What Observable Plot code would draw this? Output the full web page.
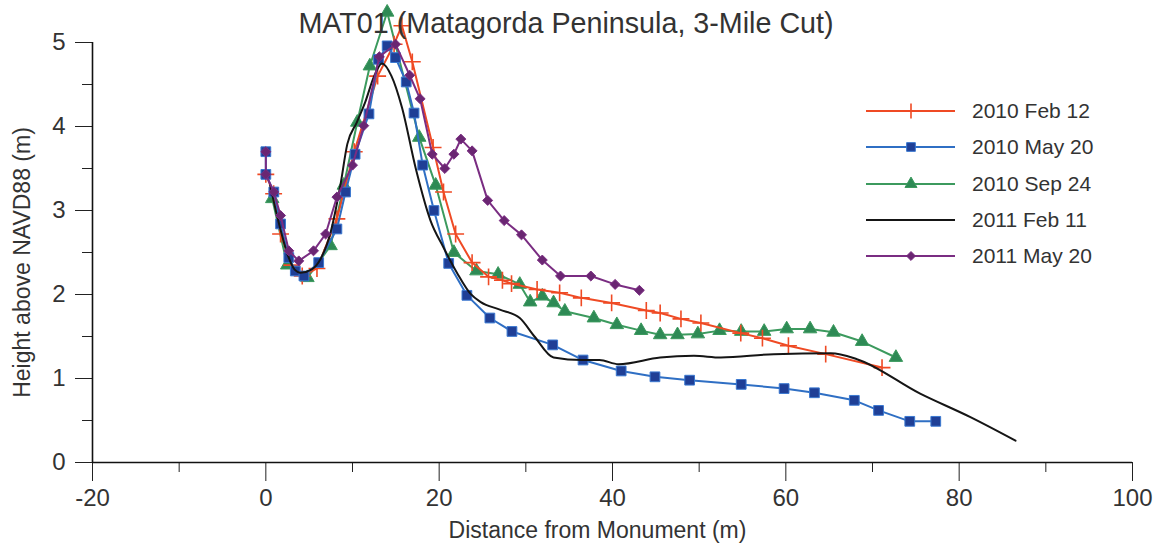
<!DOCTYPE html>
<html><head><meta charset="utf-8">
<script src="https://cdn.jsdelivr.net/npm/d3@7"></script>
<script src="https://cdn.jsdelivr.net/npm/@observablehq/plot@0.6"></script>
<style>
body{margin:0;background:#fff;font-family:"Liberation Sans",Arial,sans-serif;}
#wrap{position:relative;width:1156px;height:550px;overflow:hidden;}
#title{position:absolute;top:7px;left:0;width:1132px;text-align:center;font-size:28.7px;line-height:32px;color:#333;}
#legend{position:absolute;left:862px;top:93px;}
.row{display:flex;align-items:center;height:36.3px;font-size:21px;color:#333;}
.row svg{margin-right:14px;}
</style></head><body><div id="wrap"><div id="title">MAT01 (Matagorda Peninsula, 3-Mile Cut)</div><div id="legend"></div></div>
<script>
const titleText = "MAT01 (Matagorda Peninsula, 3-Mile Cut)";
const xLabel = "Distance from Monument (m)";
const yLabel = "Height above NAVD88 (m)";
const xTicks = [-20, 0, 20, 40, 60, 80, 100];
const xMinorTicks = [-10, 10, 30, 50, 70, 90];
const yTicks = [0, 1, 2, 3, 4, 5];
const yMinorTicks = [0.5, 1.5, 2.5, 3.5, 4.5];
const seriesNames = ["2010 Feb 12", "2010 May 20", "2010 Sep 24", "2011 Feb 11", "2011 May 20"];

const feb2010 = [[0,3.43],[0.9,3.2],[1.7,2.72],[3.0,2.35],[4.2,2.22],[5.9,2.31],[8.2,2.9],[10.2,3.7],[12.9,4.6],[14.8,4.98],[15.7,5.2],[16.9,4.77],[19.3,3.75],[20.5,3.22],[21.9,2.72],[23.8,2.38],[25.7,2.21],[27.3,2.17],[28.35,2.13],[31.3,2.06],[33.9,2.02],[36.4,1.96],[39.9,1.9],[43.9,1.81],[45.5,1.78],[47.9,1.71],[50.2,1.66],[54.8,1.54],[57.3,1.48],[60.3,1.39],[64.6,1.29],[71.1,1.13]];
const may2010 = [[0,3.7],[0,3.43],[0.92,3.22],[1.7,2.84],[2.65,2.44],[3.4,2.28],[4.4,2.22],[6.1,2.38],[8.2,2.78],[9.2,3.22],[10.3,3.67],[11.9,4.15],[13.0,4.8],[14.0,4.96],[14.96,4.82],[16.2,4.53],[17.1,4.16],[18.1,3.54],[19.4,3.0],[21.1,2.37],[23.2,1.99],[25.85,1.72],[28.4,1.56],[33.1,1.40],[36.6,1.22],[41.0,1.09],[44.9,1.02],[48.9,0.98],[54.85,0.93],[59.8,0.88],[63.3,0.83],[67.9,0.74],[70.7,0.62],[74.3,0.49],[77.3,0.49]];
const sep2010 = [[0.74,3.14],[2.47,2.35],[4.8,2.2],[7.47,2.58],[9.0,3.3],[10.55,4.05],[12.0,4.72],[14.0,5.36],[17.7,3.87],[19.6,3.3],[21.7,2.5],[24.3,2.28],[26.8,2.24],[29.3,2.12],[30.5,1.91],[31.9,1.98],[33.2,1.9],[34.5,1.8],[37.85,1.72],[40.5,1.64],[43.3,1.57],[45.5,1.52],[47.5,1.52],[49.85,1.53],[52.35,1.57],[54.85,1.56],[57.5,1.56],[60.1,1.59],[62.8,1.59],[65.5,1.55],[68.8,1.44],[72.7,1.25]];
const feb2011 = [[0.5,3.3],[1.5,2.85],[2.6,2.45],[3.3,2.3],[4.0,2.26],[5.3,2.3],[6.3,2.42],[7.5,2.75],[8.6,3.3],[9.4,3.79],[10.5,4.05],[11.5,4.3],[12.5,4.6],[13.4,4.75],[14.5,4.6],[15.7,4.23],[17.3,3.5],[19.0,2.88],[20.5,2.56],[22.1,2.25],[23.6,2.01],[24.8,1.91],[27.0,1.82],[29.3,1.72],[31.0,1.5],[33.2,1.25],[36.5,1.22],[38.5,1.22],[40.7,1.17],[45.5,1.25],[49.4,1.27],[52.5,1.25],[58.6,1.29],[65.2,1.30],[68.2,1.23],[75.5,0.82],[81.3,0.54],[86.5,0.26]];
const may2011 = [[0,3.7],[0,3.43],[0.92,3.22],[1.7,2.94],[2.65,2.52],[3.8,2.4],[5.5,2.52],[6.9,2.72],[8.2,3.16],[10.0,3.54],[11.3,4.01],[13.1,4.83],[14.96,4.98],[16.6,4.61],[17.8,4.33],[19.2,3.67],[20.65,3.5],[21.7,3.67],[22.5,3.85],[23.8,3.71],[25.6,3.12],[27.5,2.88],[29.5,2.71],[31.9,2.41],[34.0,2.22],[37.5,2.22],[40.3,2.12],[43.1,2.05]];

const styles = [
  {name: seriesNames[0], data: feb2010, line: "#ef4a24", symbol: "plus", fill: "none", mstroke: "#ef4a24", r: 5.5, sw: 1.6},
  {name: seriesNames[1], data: may2010, line: "#2f6fc4", symbol: "square", fill: "#1f3f96", mstroke: "#3a78d0", r: 5.5, sw: 1},
  {name: seriesNames[2], data: sep2010, line: "#3c9a5e", symbol: "triangle", fill: "#2e8a55", mstroke: "#3c9a5e", r: 5, sw: 1},
  {name: seriesNames[3], data: feb2011, line: "#151515", symbol: null},
  {name: seriesNames[4], data: may2011, line: "#7a2d82", symbol: "diamond2", fill: "#6a2672", mstroke: "#7a2d82", r: 4.5, sw: 1}
];
const drawOrder = [2, 0, 1, 3, 4];
const fmt = d => String(d);

const marks = [
  Plot.axisX(xTicks, {tickSize: 19, tickPadding: 7, fontSize: 24, tickFormat: fmt, label: null}),
  Plot.axisX(xMinorTicks, {tickSize: 10, text: null, label: null}),
  Plot.axisY(yTicks, {tickSize: 17, tickPadding: 10, fontSize: 24, tickFormat: fmt, label: null}),
  Plot.axisY(yMinorTicks, {tickSize: 10, text: null, label: null}),
  Plot.text([xLabel], {text: d => d, frameAnchor: "bottom", textAnchor: "middle", lineAnchor: "middle", dy: 68, dx: -15, fontSize: 23, fill: "#333"}),
  Plot.text([yLabel], {text: d => d, frameAnchor: "left", textAnchor: "middle", lineAnchor: "middle", rotate: -90, dx: -70, dy: 10, fontSize: 23, fill: "#333"}),
  Plot.ruleY([0], {stroke: "#111", strokeWidth: 1.6}),
  Plot.ruleX([-20], {stroke: "#111", strokeWidth: 1.6})
];
for (const k of drawOrder) {
  const s = styles[k];
  marks.push(Plot.line(s.data, {x: d => d[0], y: d => d[1], stroke: s.line, strokeWidth: 2, curve: s.symbol ? "linear" : "monotone-x"}));
  if (s.symbol) {
    marks.push(Plot.dot(s.data, {x: d => d[0], y: d => d[1], symbol: s.symbol, r: s.r, fill: s.fill, stroke: s.mstroke, strokeWidth: s.sw}));
  }
}

const chart = Plot.plot({
  width: 1156, height: 550,
  marginLeft: 92, marginRight: 24, marginTop: 42, marginBottom: 88,
  x: {domain: [-20, 100]},
  y: {domain: [0, 5]},
  style: {color: "#222", fontFamily: "'Liberation Sans', Arial, sans-serif", background: "transparent"},
  marks
});
const wrap = document.getElementById("wrap");
wrap.insertBefore(chart, wrap.firstChild);
chart.querySelectorAll("text").forEach(t => t.setAttribute("fill", "#333"));

// legend
const symMap = {plus: d3.symbolPlus, square: d3.symbolSquare, triangle: d3.symbolTriangle, diamond2: d3.symbolDiamond2};
const legend = d3.select("#legend");
styles.forEach(s => {
  const row = legend.append("div").attr("class", "row");
  const svg = row.append("svg").attr("width", 96).attr("height", 20);
  svg.append("line").attr("x1", 4).attr("x2", 93).attr("y1", 10).attr("y2", 10).attr("stroke", s.line).attr("stroke-width", 2);
  if (s.symbol) {
    svg.append("path").attr("transform", "translate(49,10)")
      .attr("d", d3.symbol(symMap[s.symbol], Math.PI * s.r * s.r * 0.8)())
      .attr("fill", s.fill).attr("stroke", s.mstroke).attr("stroke-width", s.sw);
  }
  row.append("span").text(s.name);
});
</script></body></html>
